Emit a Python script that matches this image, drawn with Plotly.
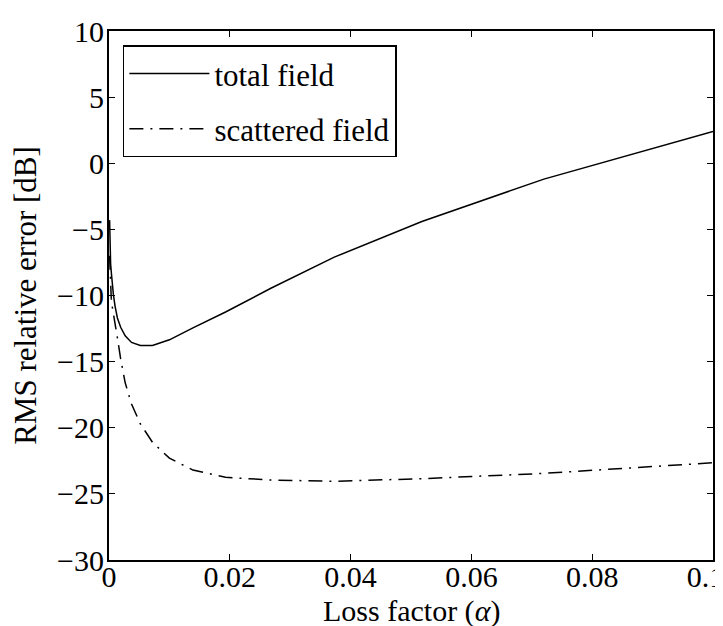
import plotly.graph_objects as go

alpha = [0.0001, 0.000139, 0.000193, 0.000268, 0.000373, 0.000518, 0.00072,
         0.001, 0.00139, 0.00193, 0.00268, 0.00373, 0.00518, 0.0072,
         0.01, 0.0139, 0.0193, 0.0268, 0.0373, 0.0518, 0.072, 0.1]

total_field = [-4.3, -5.5, -6.8, -7.6, -8.2, -9.0, -9.9,
               -10.8, -11.7, -12.4, -13.05, -13.55, -13.78, -13.78,
               -13.35, -12.45, -11.25, -9.45, -7.1, -4.4, -1.2, 2.4]

scattered_field = [-7.0, -7.8, -8.6, -9.5, -10.2, -10.8, -11.3,
                   -12.0, -13.2, -14.8, -16.6, -18.2, -19.7, -21.1,
                   -22.3, -23.2, -23.75, -23.95, -24.05, -23.85, -23.45, -22.65]

x_ticks = [0, 0.02, 0.04, 0.06, 0.08, 0.1]
# trailing no-break spaces keep the last label inside the page edge
x_tick_labels = ["0", "0.02", "0.04", "0.06", "0.08", "0.1\u00a0\u00a0"]
y_ticks = [-30, -25, -20, -15, -10, -5, 0, 5, 10]

FONT = "Liberation Serif, DejaVu Serif, serif"
FS_TICK = 30
FS_TEXT = 31

fig = go.Figure()
fig.add_trace(go.Scatter(x=alpha, y=total_field, mode="lines", name="total field",
                         legendgroup="a",
                         line=dict(color="black", width=1.5)))
fig.add_trace(go.Scatter(x=alpha, y=scattered_field, mode="lines", name="scattered field",
                         legendgroup="b",
                         line=dict(color="black", width=1.5, dash="14px,7px,2px,7px")))

axis_common = dict(showline=True, linecolor="black", linewidth=2, mirror="ticks",
                   ticks="inside", ticklen=6, tickwidth=1, tickcolor="black",
                   showgrid=False, zeroline=False, automargin=False,
                   ticklabeloverflow="allow",
                   tickfont=dict(family=FONT, size=FS_TICK, color="black"))

fig.update_xaxes(range=[0, 0.1], tickvals=x_ticks, ticktext=x_tick_labels,
                 ticklabelstandoff=-11, **axis_common)
fig.update_yaxes(range=[-30, 10], tickvals=y_ticks, ticklabelstandoff=-3,
                 title=dict(text="RMS relative error [dB]",
                            font=dict(family=FONT, size=FS_TEXT, color="black"),
                            standoff=14),
                 **axis_common)

fig.add_annotation(text="Loss factor (<i>α</i>)", xref="paper", yref="paper", x=0.5, y=0,
                   xanchor="center", yanchor="top", yshift=-32, showarrow=False,
                   font=dict(family=FONT, size=30, color="black"))

fig.update_layout(
    width=723, height=626,
    margin=dict(l=101, r=18, t=23, b=74),
    plot_bgcolor="white", paper_bgcolor="white",
    legend=dict(x=0.023, y=0.973, xanchor="left", yanchor="top",
                bgcolor="white", bordercolor="black", borderwidth=1.5,
                font=dict(family=FONT, size=FS_TEXT, color="black"),
                itemwidth=80, tracegroupgap=12),
    showlegend=True,
)

fig.write_html("out.html")
